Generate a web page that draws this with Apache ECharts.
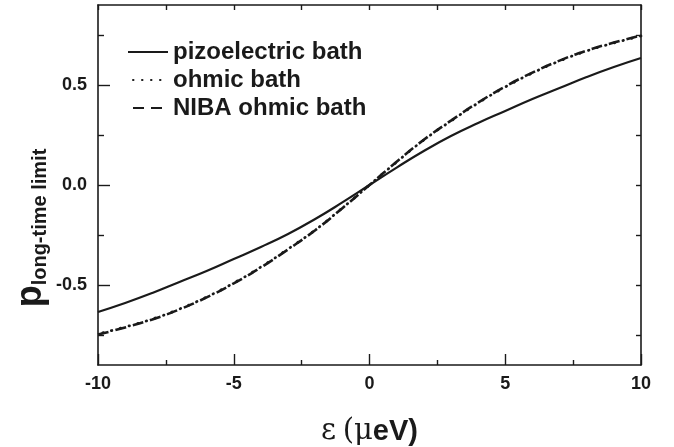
<!DOCTYPE html>
<html>
<head>
<meta charset="utf-8">
<style>
  html, body { margin: 0; padding: 0; background: #fff; }
  #chart { width: 674px; height: 447px; }
</style>
<script src="https://cdn.jsdelivr.net/npm/echarts@6/dist/echarts.min.js"></script>
</head>
<body>
<div id="chart"></div>
<script>
const EPSILON = [-10, -9, -8, -7, -6, -5, -4, -3, -2, -1, 0, 1, 2, 3, 4, 5, 6, 7, 8, 9, 10];
const PIZO = [-0.635, -0.59, -0.54, -0.485, -0.43, -0.37, -0.31, -0.245, -0.17, -0.087, 0,
  0.087, 0.17, 0.245, 0.31, 0.37, 0.43, 0.485, 0.54, 0.59, 0.635];
const OHMIC = [-0.745, -0.71, -0.67, -0.62, -0.56, -0.49, -0.41, -0.32, -0.225, -0.115, 0,
  0.115, 0.225, 0.32, 0.41, 0.49, 0.56, 0.62, 0.67, 0.71, 0.745];
const NIBA = [-0.748, -0.712, -0.672, -0.622, -0.562, -0.492, -0.412, -0.322, -0.226, -0.116, 0,
  0.116, 0.226, 0.322, 0.412, 0.492, 0.562, 0.622, 0.672, 0.712, 0.748];
const SERIES_NAMES = ["pizoelectric bath", "ohmic bath", "NIBA ohmic bath"];
const Y_MAJOR = [-0.5, 0, 0.5];
const Y_MINOR = [-0.75, -0.25, 0.25, 0.75];
const Y_RIGHT = [-0.75, -0.5, -0.25, 0, 0.25, 0.5, 0.75];

const INK = "#1a1a1a";
const SANS = "Liberation Sans";
const SERIF = "DejaVu Serif";

const pairs = (ys) => EPSILON.map((x, i) => [x, ys[i]]);

const axisLine = { show: true, onZero: false, lineStyle: { color: INK, width: 1.6 } };
const tickLine = { color: INK, width: 1.4 };

const chart = echarts.init(document.getElementById("chart"));

chart.setOption({
  animation: false,
  backgroundColor: "#fff",
  color: [INK, INK, INK],
  grid: { left: 98, right: 33, top: 5, bottom: 82, outerBoundsMode: "none", containLabel: false },
  legend: {
    orient: "vertical",
    left: 122,
    top: 35,
    itemWidth: 40,
    itemHeight: 20,
    itemGap: 4,
    data: SERIES_NAMES,
    itemStyle: { opacity: 0 },
    textStyle: { fontFamily: SANS, fontWeight: "bold", fontSize: 24, color: INK }
  },
  xAxis: [
    {
      type: "value",
      position: "bottom",
      min: -10,
      max: 10,
      interval: 5,
      axisLine,
      axisTick: { inside: true, length: 11, lineStyle: tickLine },
      minorTick: { show: true, splitNumber: 2, length: 5, lineStyle: tickLine },
      axisLabel: { margin: 10, fontFamily: SANS, fontWeight: "bold", fontSize: 18, color: INK },
      splitLine: { show: false },
      name: "{g|ε}  {g|(}{g|μ}{e|eV)}",
      nameLocation: "middle",
      nameGap: 52,
      nameTextStyle: {
        rich: {
          g: { fontFamily: SERIF, fontSize: 29, color: INK },
          e: { fontFamily: SANS, fontWeight: "bold", fontSize: 29, color: INK }
        }
      }
    },
    {
      type: "value",
      position: "top",
      min: -10,
      max: 10,
      interval: 2.5,
      axisLine,
      axisTick: { inside: true, length: 5, lineStyle: tickLine },
      axisLabel: { show: false },
      splitLine: { show: false }
    }
  ],
  yAxis: [
    {
      type: "value",
      position: "left",
      min: -0.9,
      max: 0.9,
      axisLine,
      axisTick: { inside: true, length: 12, customValues: Y_MAJOR, lineStyle: tickLine },
      axisLabel: {
        customValues: Y_MAJOR,
        margin: 11,
        fontFamily: SANS,
        fontWeight: "bold",
        fontSize: 18,
        color: INK,
        formatter: (v) => v.toFixed(1)
      },
      splitLine: { show: false }
    },
    {
      type: "value",
      position: "left",
      min: -0.9,
      max: 0.9,
      axisLine: { show: false, onZero: false },
      axisTick: { inside: true, length: 6, customValues: Y_MINOR, lineStyle: tickLine },
      axisLabel: { show: false },
      splitLine: { show: false }
    },
    {
      type: "value",
      position: "right",
      min: -0.9,
      max: 0.9,
      axisLine,
      axisTick: { inside: true, length: 5, customValues: Y_RIGHT, lineStyle: tickLine },
      axisLabel: { show: false },
      splitLine: { show: false }
    }
  ],
  series: [
    {
      name: SERIES_NAMES[0],
      type: "line",
      data: pairs(PIZO),
      smooth: true,
      symbol: "none",
      lineStyle: { color: INK, width: 2.2 }
    },
    {
      name: SERIES_NAMES[1],
      type: "line",
      data: pairs(OHMIC),
      smooth: true,
      symbol: "none",
      lineStyle: { color: INK, width: 2.8, type: [0.5, 8.5], dashOffset: -5, cap: "round" }
    },
    {
      name: SERIES_NAMES[2],
      type: "line",
      data: pairs(NIBA),
      smooth: true,
      symbol: "none",
      lineStyle: { color: INK, width: 2.6, type: [11, 7] }
    }
  ],
  graphic: [
    {
      type: "text",
      x: 31,
      y: 228,
      rotation: Math.PI / 2,
      style: {
        text: "{p|p}{s|long-time limit}",
        align: "center",
        verticalAlign: "middle",
        rich: {
          p: { fontFamily: SANS, fontWeight: "bold", fontSize: 36, lineHeight: 38, fill: INK },
          s: { fontFamily: SANS, fontWeight: "bold", fontSize: 20, lineHeight: 20, verticalAlign: "bottom", fill: INK }
        }
      }
    }
  ]
});
</script>
</body>
</html>
